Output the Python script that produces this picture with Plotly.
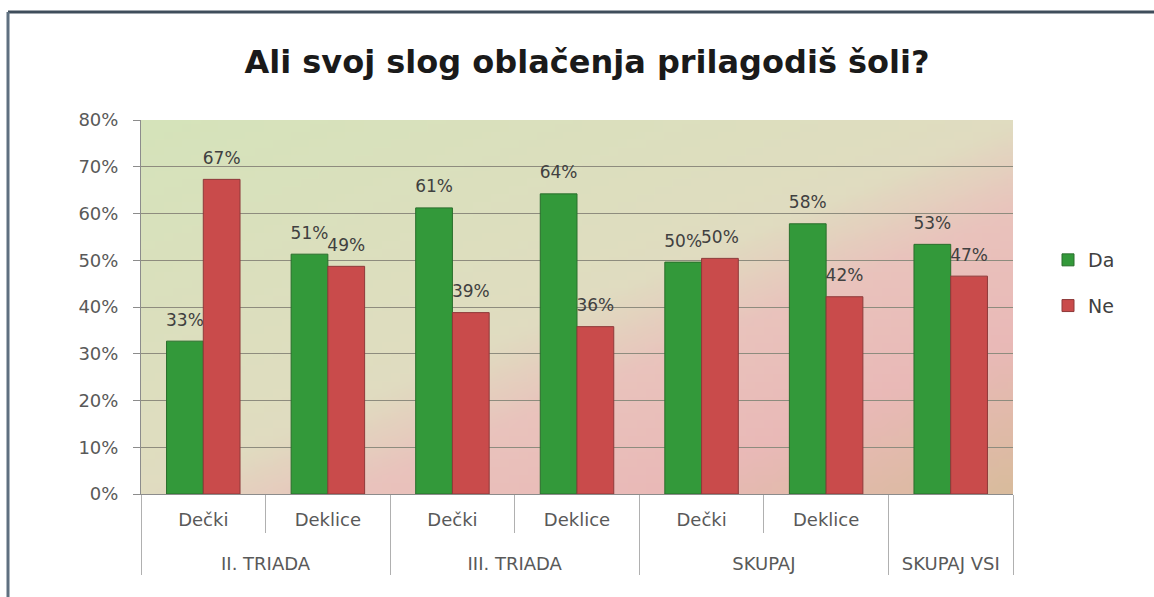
import base64
import struct
import zlib

import plotly.graph_objects as go

# data
groups = ["II. TRIADA", "II. TRIADA", "III. TRIADA", "III. TRIADA", "SKUPAJ", "SKUPAJ", "SKUPAJ VSI"]
subgroups = ["Dečki", "Deklice", "Dečki", "Deklice", "Dečki", "Deklice", " "]
da = [0.327, 0.513, 0.612, 0.642, 0.496, 0.578, 0.534]
ne = [0.673, 0.487, 0.388, 0.358, 0.504, 0.422, 0.466]

title = "Ali svoj slog oblačenja prilagodiš šoli?"

# plot area in pixels (figure is 1154 x 597)
L, R, T, B = 141, 1013, 120, 494
FONT = "DejaVu Sans"


def hex_rgb(h):
    h = h.lstrip("#")
    return tuple(int(h[i:i + 2], 16) for i in (0, 2, 4))


def gradient_png(w, h, stops):
    """Small diagonal gradient picture (top-left -> bottom-right) as data uri"""
    stops = [(t, hex_rgb(c)) for t, c in stops]

    def col(t):
        for (t0, c0), (t1, c1) in zip(stops[:-1], stops[1:]):
            if t <= t1:
                f = (t - t0) / (t1 - t0) if t1 > t0 else 0
                return bytes(int(round(a + (b - a) * f)) for a, b in zip(c0, c1))
        return bytes(stops[-1][1])

    raw = b""
    for j in range(h):
        raw += b"\x00"
        for i in range(w):
            t = (i / (w - 1) + j / (h - 1)) / 2
            raw += col(t)

    def chunk(tag, data):
        c = struct.pack(">I", len(data)) + tag + data
        return c + struct.pack(">I", zlib.crc32(tag + data) & 0xffffffff)

    png = b"\x89PNG\r\n\x1a\n"
    png += chunk(b"IHDR", struct.pack(">IIBBBBB", w, h, 8, 2, 0, 0, 0))
    png += chunk(b"IDAT", zlib.compress(raw, 9))
    png += chunk(b"IEND", b"")
    return "data:image/png;base64," + base64.b64encode(png).decode()


bg = gradient_png(96, 48, [(0.0, "#d5e3ba"), (0.5, "#e0dcc0"), (0.62, "#e9c3bc"),
                            (0.8, "#e9b9b7"), (1.0, "#d9bb9d")])


def big(s):
    return f"<span style='font-size:18px'>{s}</span>"


# invisible lines under the inner labels push the group labels down
ghost = "<br><span style='color:rgba(0,0,0,0)'>.</span>"
inner = [big(s) + (ghost * 2 if s.strip() else "") for s in subgroups]
outer = [big(s) for s in groups]

label_tpl = "<span style='font-size:17px'>%{y:.0%}</span><br> "

fig = go.Figure()
for vals, name, fill, edge in [(da, "Da", "#33993a", "#2a6e2c"), (ne, "Ne", "#c94b4b", "#8e3a3a")]:
    fig.add_trace(go.Bar(x=[outer, inner], y=vals, name=name, legendgroup=name,
                         marker=dict(color=fill, line=dict(color=edge, width=1)),
                         texttemplate=label_tpl, textposition="outside", cliponaxis=False,
                         constraintext="none",
                         textfont=dict(size=8, color="#404040", family=FONT)))

pw, ph = R - L, B - T


def px(x):
    return (x - L) / pw


def py(y):
    return (B - y) / ph


fig.update_layout(
    width=1154, height=597,
    margin=dict(l=L, r=1154 - R, t=T, b=597 - B),
    paper_bgcolor="white",
    plot_bgcolor="rgba(0,0,0,0)",
    font=dict(family=FONT, color="#595959"),
    title=dict(text=f"<b>{title}</b>", x=587 / 1154, xanchor="center", y=1 - 62 / 597, yanchor="middle",
               font=dict(family=FONT, size=32, color="#1a1a1a")),
    barmode="group", bargap=0.41, bargroupgap=0,
    showlegend=True,
    legend=dict(x=px(1048), y=py(283), xanchor="left", yanchor="middle", traceorder="grouped",
                tracegroupgap=18, font=dict(size=19, color="#404040"), bgcolor="rgba(0,0,0,0)"),
    images=[dict(source=bg, xref="paper", yref="paper", x=0, y=1, sizex=1, sizey=1,
                 xanchor="left", yanchor="top", sizing="stretch", layer="below")],
    shapes=[
        dict(type="line", xref="paper", yref="paper", x0=px(8), x1=px(1154), y0=py(12), y1=py(12),
             line=dict(color="#3f4d5b", width=3)),
        dict(type="line", xref="paper", yref="paper", x0=px(8), x1=px(8), y0=py(12), y1=py(597),
             line=dict(color="#5f7080", width=3)),
    ],
)

fig.update_yaxes(range=[0, 0.8], dtick=0.1, tickformat=".0%", showgrid=True, gridcolor="#8e8c7e",
                 gridwidth=1, showline=True, linecolor="#8c8c8c", ticks="outside", ticklen=7,
                 tickcolor="#8c8c8c", ticklabelstandoff=11, tickfont=dict(size=18, color="#595959"),
                 zeroline=False)
fig.update_xaxes(type="multicategory", showline=True, linecolor="#8c8c8c", ticks="outside",
                 tickson="boundaries", ticklen=38, tickcolor="#b0b0b0", showdividers=True,
                 dividercolor="#b0b0b0", dividerwidth=1, ticklabelstandoff=14,
                 tickfont=dict(size=14, color="#595959"), showgrid=False)

fig.write_html("out.html", config={"displayModeBar": False},
               post_script="document.body.style.margin='0px';")
